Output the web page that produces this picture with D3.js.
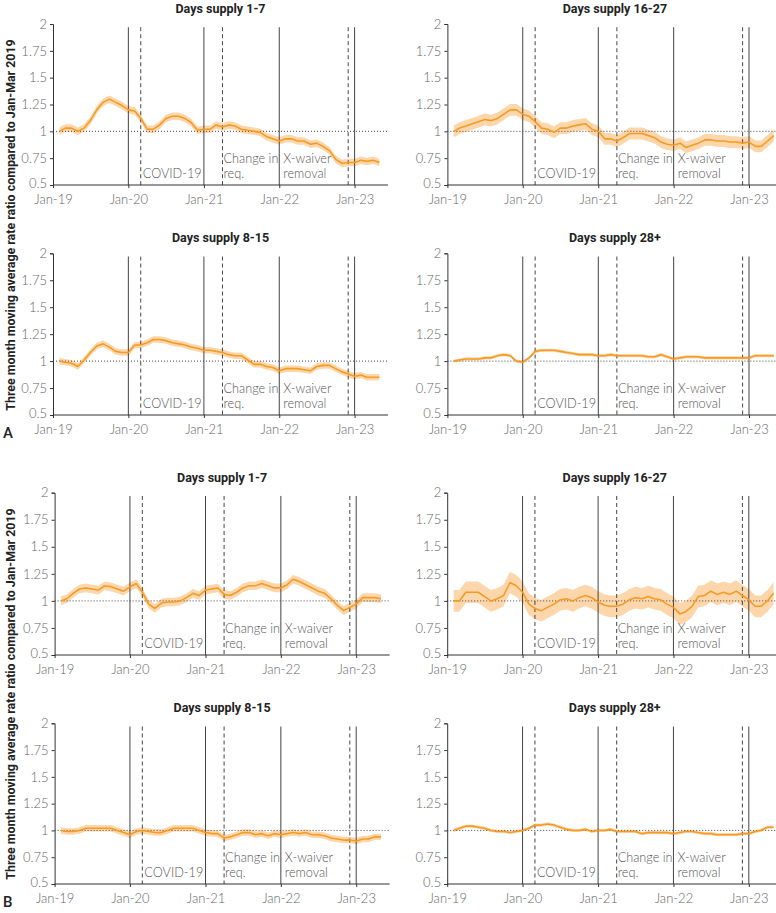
<!DOCTYPE html>
<html>
<head>
<meta charset="utf-8">
<script src="https://cdn.jsdelivr.net/npm/d3@7"></script>
<style>
  body { margin: 0; background: #fff; }
</style>
</head>
<body>
<script>
// months Feb-19 .. May-23 (centre of each 3-month window)
const months = d3.timeMonth.range(new Date(2019, 1, 1), new Date(2023, 5, 1));
const yTicks = [0.5, 0.75, 1, 1.25, 1.5, 1.75, 2];
const yearTicks = [new Date(2019,0,1), new Date(2020,0,1), new Date(2021,0,1), new Date(2022,0,1), new Date(2023,0,1)];
const solidEvents = [new Date(2020,0,1), new Date(2021,0,1), new Date(2022,0,1), new Date(2023,0,1)];
const dashedEvents = [new Date(2020,2,1), new Date(2021,3,1), new Date(2022,11,1)];
const eventLabels = [
  {date: new Date(2020,2,1), dx: 2, lines: ["COVID-19"]},
  {date: new Date(2021,3,1), dx: 1, lines: ["Change in", "req."]},
  {date: new Date(2022,0,1), dx: 4, lines: ["X-waiver", "removal"]}
];
const titles = ["Days supply 1-7", "Days supply 16-27", "Days supply 8-15", "Days supply 28+"];

// panel A
const a1to7 = [1.00,1.03,1.03,1.00,1.03,1.10,1.20,1.27,1.30,1.27,1.24,1.20,1.19,1.12,1.02,1.02,1.06,1.12,1.14,1.14,1.12,1.08,1.01,1.02,1.02,1.06,1.04,1.06,1.05,1.02,1.01,1.00,0.99,0.95,0.93,0.91,0.93,0.93,0.91,0.91,0.88,0.89,0.86,0.82,0.74,0.70,0.71,0.71,0.73,0.72,0.73,0.71];
const a16to27 = [1.00,1.03,1.05,1.07,1.09,1.11,1.10,1.12,1.16,1.20,1.20,1.16,1.14,1.09,1.03,1.02,0.99,1.03,1.03,1.05,1.06,1.07,1.02,1.00,0.93,0.93,0.91,0.94,0.98,0.98,0.98,0.96,0.94,0.90,0.88,0.87,0.89,0.85,0.87,0.89,0.92,0.92,0.91,0.91,0.90,0.90,0.89,0.90,0.86,0.86,0.91,0.96];
const a8to15 = [1.00,0.99,0.98,0.95,1.01,1.08,1.14,1.16,1.13,1.09,1.08,1.08,1.15,1.15,1.17,1.20,1.20,1.19,1.17,1.16,1.15,1.13,1.12,1.10,1.10,1.09,1.08,1.06,1.05,1.05,1.01,0.97,0.97,0.95,0.94,0.91,0.93,0.93,0.93,0.92,0.91,0.95,0.96,0.96,0.93,0.90,0.88,0.86,0.87,0.85,0.85,0.85];
const a28plus = [1.00,1.01,1.02,1.02,1.02,1.03,1.03,1.05,1.06,1.05,1.00,0.99,1.03,1.09,1.10,1.10,1.10,1.09,1.08,1.07,1.06,1.06,1.06,1.05,1.05,1.06,1.05,1.05,1.05,1.05,1.05,1.04,1.04,1.06,1.04,1.02,1.03,1.04,1.04,1.04,1.03,1.03,1.03,1.03,1.03,1.03,1.03,1.03,1.05,1.05,1.05,1.05];
// panel B
const b1to7 = [1.00,1.02,1.07,1.11,1.12,1.11,1.10,1.14,1.13,1.11,1.09,1.13,1.16,1.08,0.97,0.93,0.98,0.99,0.99,1.00,1.03,1.07,1.05,1.10,1.11,1.12,1.06,1.05,1.08,1.12,1.14,1.14,1.16,1.14,1.12,1.12,1.15,1.20,1.18,1.15,1.12,1.09,1.07,1.02,0.96,0.91,0.94,0.97,1.03,1.03,1.03,1.02];
const b16to27 = [1.00,1.00,1.08,1.08,1.08,1.04,1.00,1.02,1.05,1.17,1.14,1.08,0.97,0.93,0.91,0.94,0.97,1.01,1.02,1.00,1.03,1.05,1.03,0.99,0.96,0.95,0.95,0.97,1.01,1.03,1.02,1.04,1.02,1.01,0.97,0.94,0.88,0.90,0.95,1.04,1.05,1.09,1.06,1.08,1.06,1.09,1.05,1.01,0.95,0.95,1.00,1.07];
const b8to15 = [1.00,0.99,0.99,1.00,1.02,1.02,1.02,1.02,1.02,1.00,0.98,0.96,0.99,1.00,0.99,0.98,0.98,1.00,1.02,1.02,1.02,1.02,1.00,0.98,0.97,0.97,0.93,0.94,0.96,0.98,0.98,0.96,0.97,0.95,0.97,0.96,0.97,0.98,0.97,0.98,0.96,0.96,0.95,0.93,0.92,0.91,0.91,0.90,0.92,0.92,0.94,0.94];
const b28plus = [1.00,1.02,1.04,1.04,1.03,1.02,1.00,0.99,0.99,0.98,0.99,1.00,1.02,1.05,1.05,1.06,1.05,1.03,1.01,1.00,1.00,1.01,0.99,1.00,1.00,1.01,0.99,0.99,0.99,0.99,0.97,0.98,0.98,0.98,0.98,0.97,0.98,0.99,0.99,0.98,0.97,0.97,0.96,0.96,0.96,0.96,0.97,0.97,0.99,1.00,1.03,1.03];
// half width of the shaded interval, per panel (A: 1-7, 16-27, 8-15, 28+, then B)
const bandHalf = [0.035, 0.055, 0.03, 0.015, 0.04, 0.1, 0.03, 0.015];

const series = [a1to7, a16to27, a8to15, a28plus, b1to7, b16to27, b8to15, b28plus];

const W = 776, H = 913;
const svg = d3.select("body").append("svg")
  .attr("width", W).attr("height", H)
  .style("font-family", "Lato, 'Open Sans', sans-serif");

// vertical placement of each row: [y of 2, y of 0.5]
const rows = [[24, 185], [253.3, 415], [492.7, 655], [723.3, 884]];
// x of Jan-19 for left / right column
const cols = [[53, 54.6], [447.4, 447.2]];
const yearPx = 75.4;

const orange = "#f59b25", band = "#fdd7ab";

series.forEach((vals, i) => {
  const sec = i < 4 ? 0 : 1;
  const k = i % 4;
  const r = sec * 2 + Math.floor(k / 2);
  const c = k % 2;
  const x0 = cols[c][sec];
  const x = d3.scaleTime()
    .domain([new Date(2019,0,1), new Date(2023,0,1)])
    .range([x0, x0 + 4 * yearPx]);
  const xEnd = x(new Date(2023,5,12));
  const y = d3.scaleLinear().domain([0.5, 2]).range([rows[r][1], rows[r][0]]);
  const g = svg.append("g");
  const h = bandHalf[i];
  const data = vals.map((v, j) => ({d: months[j], v: v}));

  g.append("path")
    .datum(data)
    .attr("fill", band)
    .attr("d", d3.area().x(d => x(d.d)).y0(d => y(d.v - h)).y1(d => y(d.v + h)));

  // event lines
  g.selectAll(".ev")
    .data(solidEvents.map(d => ({d, dash: null})).concat(dashedEvents.map(d => ({d, dash: "4,3"}))))
    .join("line")
    .attr("x1", d => x(d.d)).attr("x2", d => x(d.d))
    .attr("y1", y(1.97)).attr("y2", y(0.5))
    .attr("stroke", "#444").attr("stroke-width", 1)
    .attr("stroke-dasharray", d => d.dash);

  // reference line at 1
  g.append("line")
    .attr("x1", x0).attr("x2", xEnd)
    .attr("y1", y(1)).attr("y2", y(1))
    .attr("stroke", "#333").attr("stroke-width", 0.9)
    .attr("stroke-dasharray", "1,2");

  g.append("path")
    .datum(data)
    .attr("fill", "none")
    .attr("stroke", orange)
    .attr("stroke-width", 1.6)
    .attr("stroke-linejoin", "round")
    .attr("d", d3.line().x(d => x(d.d)).y(d => y(d.v)));

  // event labels
  eventLabels.forEach(e => {
    const t = g.append("text")
      .attr("fill", "#555")
      .attr("font-size", 12.7)
      .attr("font-weight", 300);
    const n = e.lines.length;
    e.lines.forEach((s, li) => {
      t.append("tspan")
        .attr("x", x(e.date) + e.dx)
        .attr("y", y(0.5) - 7 - (n - 1 - li) * 15)
        .text(s);
    });
  });

  // axes
  const ya = g.append("g")
    .attr("transform", `translate(${x0},0)`)
    .call(d3.axisLeft(y).tickValues(yTicks).tickSize(3).tickPadding(3)
      .tickFormat(d => d3.format("")(d)));
  const xa = g.append("g")
    .attr("transform", `translate(0,${y(0.5)})`)
    .call(d3.axisBottom(x).tickValues(yearTicks).tickSize(3).tickPadding(7)
      .tickFormat(d3.timeFormat("%b-%y")));
  xa.select(".domain").attr("d", `M${x0},0H${xEnd}`);
  [ya, xa].forEach(a => {
    a.select(".domain").attr("stroke", "#333");
    a.selectAll(".tick line").attr("stroke", "#333");
    a.selectAll(".tick text")
      .attr("fill", "#666")
      .attr("font-size", 13)
      .attr("font-weight", 300)
      .style("font-family", "Lato, 'Open Sans', sans-serif");
  });
  // keep the lowest y label clear of the first date label
  ya.selectAll(".tick text").filter(d => d === 0.5).attr("dy", "0.2em");

  g.append("text")
    .attr("x", (x0 + xEnd) / 2)
    .attr("y", rows[r][0] - 11)
    .attr("text-anchor", "middle")
    .attr("font-size", 12.5)
    .attr("font-weight", 700)
    .attr("fill", "#222")
    .style("font-family", "Roboto, sans-serif")
    .text(titles[k]);
});

// section labels and y titles
const yTitle = "Three month moving average rate ratio compared to Jan-Mar 2019";
[[225, "A", 438], [694, "B", 907]].forEach(([cy, lab, ly]) => {
  svg.append("text")
    .attr("transform", `translate(15,${cy}) rotate(-90)`)
    .attr("text-anchor", "middle")
    .attr("font-size", 12.4)
    .attr("font-weight", 700)
    .attr("fill", "#222")
    .style("font-family", "Roboto, sans-serif")
    .text(yTitle);
  svg.append("text")
    .attr("x", 3).attr("y", ly)
    .attr("font-size", 15)
    .attr("font-weight", 500)
    .attr("fill", "#222")
    .style("font-family", "Roboto, sans-serif")
    .text(lab);
});
</script>
</body>
</html>
